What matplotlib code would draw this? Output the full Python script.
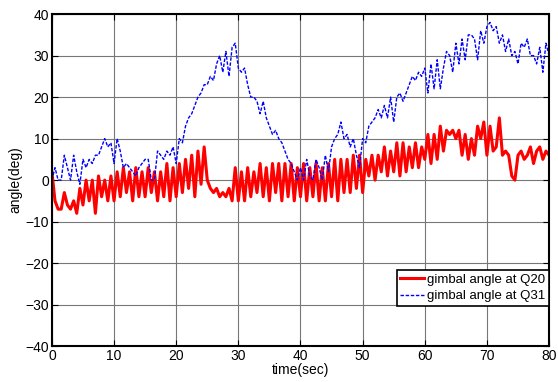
import numpy as np
import matplotlib
matplotlib.use('Agg')
import matplotlib.pyplot as plt

plt.rcParams['font.family'] = ['Liberation Sans', 'DejaVu Sans']

# time base, 0.5 s steps
t = np.arange(0, 80.5, 0.5)

q20 = [2, -5, -7, -7, -3, -6, -7, -5, -8, -2,
       -6, 0, -5, 0, -8, 1, -4, 0, -5, 1,
       -5, 2, -4, 3, -3, 2, -5, 3, -4, 2,
       -4, 3, -3, 2, -5, 2, -4, 4, -5, 3,
       -4, 4, -3, 5, -2, 6, -4, 7, -1, 8,
       0, -2, -3, -2, -4, -3, -4, -2, -5, 3,
       -5, 2, -5, 3, -4, 2, -3, 4, -4, 3,
       -5, 4, -3, 4, -5, 4, -4, 4, -5, 3,
       -4, 4, -5, 3, -4, 4, -5, 3, -5, 4,
       -4, 5, -5, 5, -3, 5, -3, 6, -2, 6,
       -3, 5, 1, 6, 0, 6, 2, 8, 1, 7,
       2, 9, 1, 9, 2, 8, 3, 9, 3, 8,
       5, 11, 4, 11, 5, 13, 7, 12, 11, 12,
       10, 12, 6, 11, 5, 10, 6, 13, 10, 14,
       6, 13, 7, 8, 15, 6, 7, 6, 1, 0,
       6, 7, 5, 6, 8, 4, 7, 8, 5, 7,
       6]

q31 = [0, 3, 0, 0, 6, 3, 0, 6, 2, -1,
       5, 3, 5, 4, 6, 6, 8, 10, 8, 9,
       4, 10, 7, 3, 4, 3, 2, 1, 3, 4,
       5, 5, 0, 0, 7, 6, 5, 7, 6, 8,
       4, 10, 9, 13, 15, 16, 18, 20, 21, 23,
       23, 25, 24, 28, 30, 26, 31, 25, 32, 33,
       27, 26, 27, 23, 20, 20, 19, 16, 19, 15,
       13, 11, 12, 10, 9, 7, 5, 4, 2, 0,
       3, 0, 5, 1, 0, 5, 3, 0, 6, 2,
       8, 10, 11, 14, 10, 11, 8, 10, 6, 3,
       10, 9, 13, 14, 15, 17, 15, 18, 15, 20,
       14, 20, 21, 19, 21, 23, 25, 24, 26, 25,
       27, 21, 28, 22, 29, 22, 27, 31, 30, 26,
       33, 28, 34, 29, 35, 35, 34, 29, 36, 33,
       37, 38, 36, 37, 33, 35, 31, 34, 30, 31,
       28, 33, 32, 34, 30, 30, 28, 32, 26, 33,
       30]

fig = plt.figure(figsize=(5.58, 3.82), dpi=100)
ax = fig.add_axes([0.093, 0.094, 0.891, 0.869])

ax.plot(t, q20, color='red', lw=2.2, label='gimbal angle at Q20')
ax.plot(t, q31, color='blue', lw=1.0, ls=(0, (2.5, 1.2)), label='gimbal angle at Q31')

ax.set_xlim(0, 80)
ax.set_ylim(-40, 40)
ax.set_xticks(range(0, 81, 10))
ax.set_yticks(range(-40, 41, 10))
ax.grid(True, color='#777777', lw=0.8, ls='-')
ax.tick_params(direction='in', top=True, right=True, length=4, labelsize=10, pad=2)
for s in ax.spines.values():
    s.set_linewidth(1.5)

ax.set_xlabel('time(sec)', fontsize=10, labelpad=0)
ax.set_ylabel('angle(deg)', fontsize=10, labelpad=2)

leg = ax.legend(loc='lower right', bbox_to_anchor=(1.0, 0.12), fontsize=9.5,
                fancybox=False, framealpha=1, edgecolor='black',
                handlelength=1.8, handletextpad=0.2, borderpad=0.3,
                labelspacing=0.3, borderaxespad=0)
leg.get_frame().set_linewidth(1.2)

fig.savefig('out.png', dpi=100)
